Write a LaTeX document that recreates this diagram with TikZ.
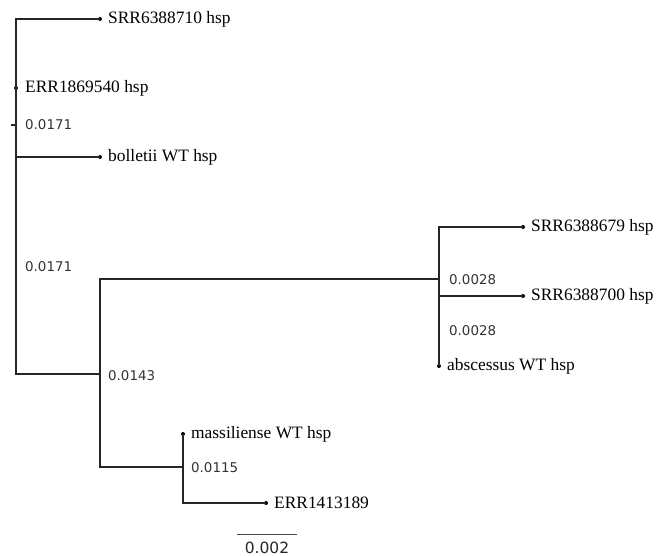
\documentclass[tikz,border=0pt]{standalone}
\usepackage{fontspec}
\setmainfont{Liberation Serif}
\newfontfamily\numfont{DejaVu Sans}
\begin{document}
\begin{tikzpicture}[x=1pt,y=-1pt,
  branch/.style={line width=1.4pt, draw=black!85},
  leafdot/.style={circle,fill=black,inner sep=0pt,minimum size=4pt},
  leaflabel/.style={anchor=west,font=\fontsize{17.4}{19}\selectfont,inner sep=0pt},
  brlen/.style={anchor=west,font=\numfont\fontsize{13.4}{15}\selectfont,inner sep=0pt,text=black!80}]
\useasboundingbox[fill=white] (0,0) rectangle (665,556);
% internal points
\coordinate (rtop) at (16,19);
\coordinate (rbot) at (16,374);
\coordinate (nA) at (16,125);
\coordinate (nAtick) at (11,125);
\coordinate (nB) at (100,374);
\coordinate (nC) at (439,279);
\coordinate (nD) at (183,467);
% leaves
\node[leafdot] (l1) at (100,19) {};
\node[leafdot] (l2) at (16,88) {};
\node[leafdot] (l3) at (100,157) {};
\node[leafdot] (l4) at (523,227) {};
\node[leafdot] (l5) at (523,296) {};
\node[leafdot] (l6) at (439,366) {};
\node[leafdot] (l7) at (183,434) {};
\node[leafdot] (l8) at (266,503) {};
% branches
\draw[branch] (l1.center) -- (rtop) -- (rbot) -- (nB);
\draw[branch] (l3.center) -- (l3.center -| rtop);
\draw[branch] (nAtick) -- (nA);
\draw[branch] (nC) -| (nB) |- (nD);
\draw[branch] (l4.center) -| (nC);
\draw[branch] (l6.center) -- (nC);
\draw[branch] (l5.center) -- (l5.center -| nC);
\draw[branch] (l7.center) -- (nD) |- (l8.center);
% leaf labels
\node[leaflabel] (t1) at (108,19) {SRR6388710 hsp};
\node[leaflabel] (t2) at (25,88) {ERR1869540 hsp};
\node[leaflabel] (t3) at (108,157) {bolletii WT hsp};
\node[leaflabel] (t4) at (531,227) {SRR6388679 hsp};
\node[leaflabel] (t5) at (531,296) {SRR6388700 hsp};
\node[leaflabel] (t6) at (447,366) {abscessus WT hsp};
\node[leaflabel] (t7) at (191,434) {massiliense WT hsp};
\node[leaflabel] (t8) at (274,503) {ERR1413189};
% branch lengths
\node[brlen] (b1) at (25,125) {0.0171};
\node[brlen] (b2) at (25,267) {0.0171};
\node[brlen] (b3) at (108,376) {0.0143};
\node[brlen] (b4) at (449,280) {0.0028};
\node[brlen] (b5) at (449,331) {0.0028};
\node[brlen] (b6) at (191,468) {0.0115};
% scale bar
\coordinate (s1) at (237,534);
\coordinate (s2) at (297,534);
\draw[line width=0.8pt, draw=black!70] (s1) -- (s2);
\node[font=\numfont\fontsize{15.5}{17}\selectfont,inner sep=0pt,text=black!85] (sl) at (267,548) {0.002};
\end{tikzpicture}
\end{document}
